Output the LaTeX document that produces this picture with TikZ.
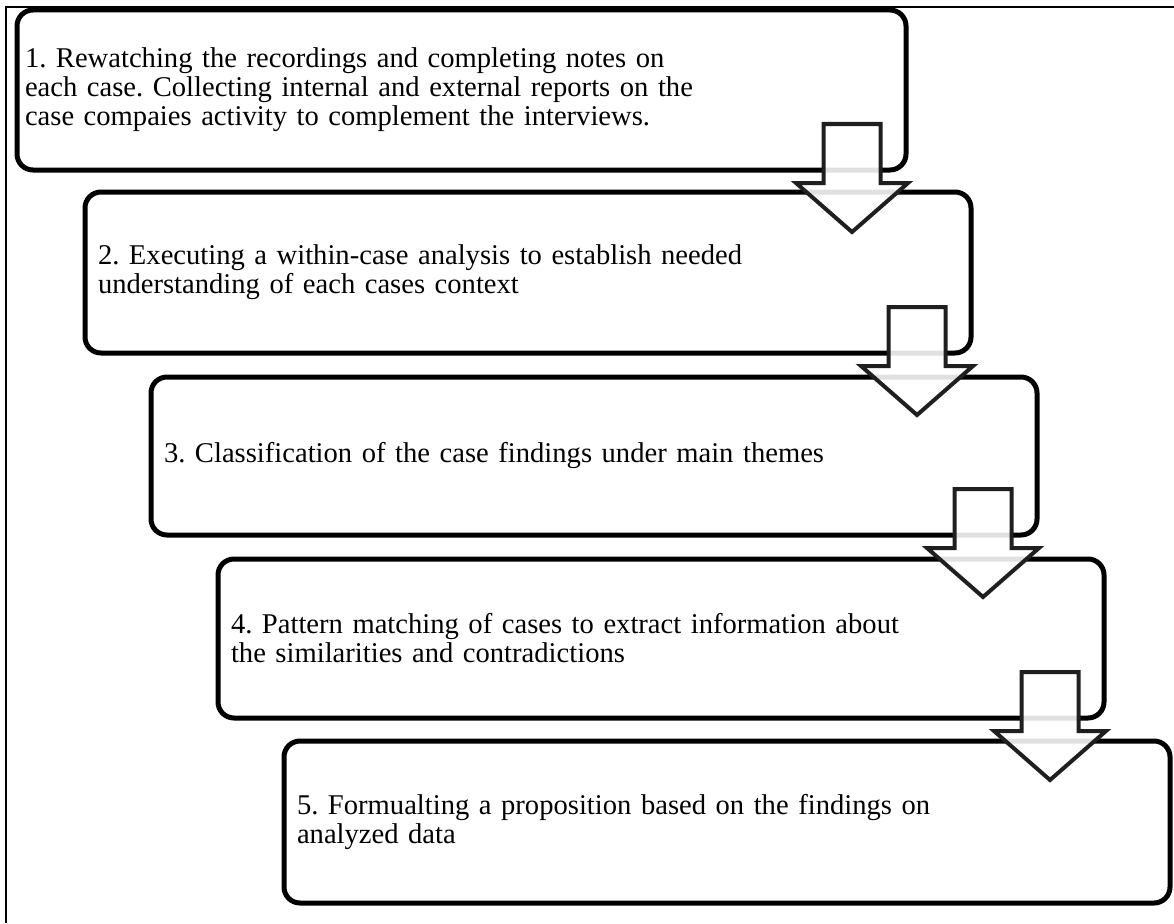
\documentclass[tikz,border=0pt]{standalone}
\usepackage{fontspec}
\setmainfont{Liberation Serif}
\usetikzlibrary{calc}
\begin{document}
\frenchspacing
\begin{tikzpicture}[x=1pt,y=-1pt,
  stepbox/.style={draw=black, line width=5pt, rounded corners=16pt, anchor=north west,
    align=left, inner xsep=13pt, inner ysep=0pt, outer sep=0pt,
    text width=860pt, minimum width=886pt, minimum height=160pt,
    font=\fontsize{28.6}{29}\selectfont},
  flowarrow/.style={draw=black!88, line width=4pt, fill=white, fill opacity=0.88, line join=miter},
  frame/.style={draw=black, line width=2.5pt}]
\useasboundingbox (0,0) rectangle (1174,923);
\coordinate (fa) at (6,923);
\coordinate (fb) at (6,7);
\coordinate (fc) at (1174,7);
\draw[frame] (fa) -- (fb) -- (fc);
\node[stepbox, inner xsep=8pt, text width=873pt, minimum width=889pt] (b1) at (17,10)
  {1. Rewatching the recordings and completing notes on\\each case. Collecting internal and external reports on the\\case compaies activity to complement the interviews.};
\node[stepbox, minimum height=161pt] (b2) at (85,192)
  {2. Executing a within-case analysis to establish needed\\understanding of each cases context};
\node[stepbox, minimum height=158pt] (b3) at (151,377)
  {3. Classification of the case findings under main themes};
\node[stepbox, minimum height=159pt] (b4) at (218,559)
  {4. Pattern matching of cases to extract information about\\the similarities and contradictions};
\node[stepbox, minimum height=162pt] (b5) at (284,741)
  {5. Formualting a proposition based on the findings on\\analyzed data};
\foreach \i in {1,2,3,4}{
  \draw[flowarrow] let \p1=(b\i.south east) in
    (\x1-82.5pt,\y1+46pt) -- (\x1-25.5pt,\y1+46pt) -- (\x1-25.5pt,\y1-13pt)
    -- (\x1+2pt,\y1-13pt) -- (\x1-54pt,\y1-62pt) -- (\x1-110pt,\y1-13pt)
    -- (\x1-82.5pt,\y1-13pt) -- cycle;
}
\end{tikzpicture}
\end{document}
